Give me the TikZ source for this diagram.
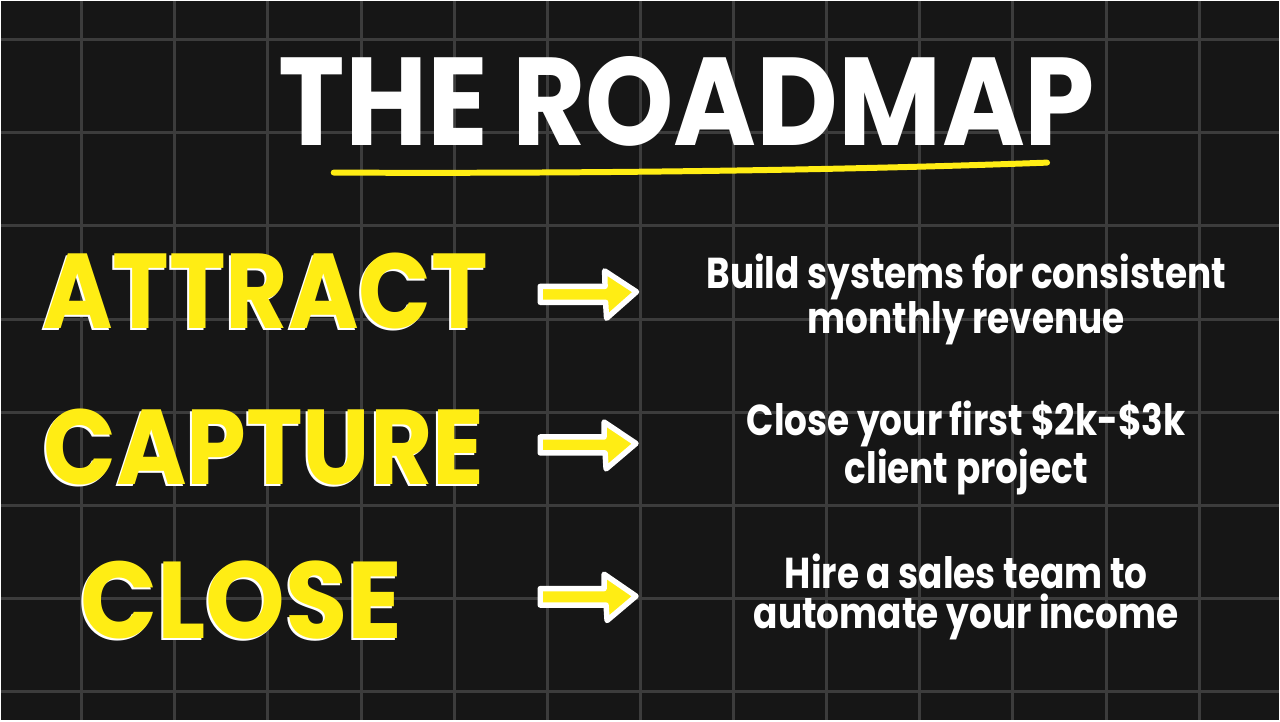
\documentclass[tikz,border=0pt]{standalone}
\usepackage{fontspec}
\usepackage{tikz}
\usepackage{xcolor}
\newfontfamily\titlefont{Poppins}[FakeStretch=0.9]
\newfontfamily\wordfont{Poppins}[FakeStretch=0.9]
\newfontfamily\closefont{Poppins}[FakeStretch=0.93]
\newfontfamily\descfont{Poppins}[FakeStretch=0.83]
\definecolor{bgdark}{RGB}{22,22,22}
\definecolor{gridgray}{RGB}{60,60,60}
\definecolor{markyellow}{RGB}{255,237,20}

\begin{document}
\begin{tikzpicture}[x=0.75pt,y=0.75pt,yscale=-1,xscale=1]
%set diagram left start at 0, and has height of 720

%Shape: Rectangle [id:dp1043527781]
\fill [bgdark] (0,0) -- (1280,0) -- (1280,720) -- (0,720) -- cycle ;
%Shape: Grid [id:dp5521930847]
\draw [color=gridgray][line width=2.25] (80.4,0) -- (80.4,720) (173.7,0) -- (173.7,720) (267.1,0) -- (267.1,720) (360.4,0) -- (360.4,720) (453.7,0) -- (453.7,720) (547.1,0) -- (547.1,720) (640.4,0) -- (640.4,720) (733.7,0) -- (733.7,720) (827.1,0) -- (827.1,720) (920.4,0) -- (920.4,720) (1013.7,0) -- (1013.7,720) (1107.1,0) -- (1107.1,720) (1200.4,0) -- (1200.4,720) (0,38.3) -- (1280,38.3) (0,131.6) -- (1280,131.6) (0,225) -- (1280,225) (0,318.3) -- (1280,318.3) (0,411.6) -- (1280,411.6) (0,505) -- (1280,505) (0,598.3) -- (1280,598.3) (0,691.6) -- (1280,691.6) ;

%Curve Lines [id:da7318204562]
\draw [color=markyellow][line width=4.5][line cap=round] (333,171.5) .. controls (560,172.5) and (820,170) .. (1048,161.5) ;

%Shape: Right Arrow [id:dp2290418735]
\draw [color=white][fill=markyellow][line width=4.1][line join=round] (540,285.5) -- (605,285.5) -- (604.5,270) -- (636.5,291) -- (606.5,317.5) -- (605.5,301.5) -- (540,301.5) -- cycle ;
%Shape: Right Arrow [id:dp6614072953]
\draw [color=white][fill=markyellow][line width=4.1][line join=round] (540,436.5) -- (604,436.5) -- (604,421.5) -- (636,443) -- (606,468.5) -- (605,452.5) -- (540,452.5) -- cycle ;
%Shape: Right Arrow [id:dp9107725386]
\draw [color=white][fill=markyellow][line width=4.1][line join=round] (540,588.5) -- (604,588.5) -- (604,574) -- (636,596) -- (607,620.5) -- (606,605) -- (540,605) -- cycle ;

% Text Node
\draw (687,144) node [anchor=base][inner sep=0.75pt] [font=\titlefont\bfseries\fontsize{94}{94}\selectfont, color=white] (title) {THE ROADMAP};
% Text Node
\draw (262.5,330) node [anchor=base][inner sep=0.75pt] [font=\wordfont\bfseries\fontsize{80}{80}\selectfont, color=white] (attractShadow) {ATTRACT};
% Text Node
\draw (264.5,328) node [anchor=base][inner sep=0.75pt] [font=\wordfont\bfseries\fontsize{80}{80}\selectfont, color=markyellow] (attract) {ATTRACT};
% Text Node
\draw (261,486) node [anchor=base][inner sep=0.75pt] [font=\wordfont\bfseries\fontsize{80}{80}\selectfont, color=white] (captureShadow) {CAPTURE};
% Text Node
\draw (263,484) node [anchor=base][inner sep=0.75pt] [font=\wordfont\bfseries\fontsize{80}{80}\selectfont, color=markyellow] (capture) {CAPTURE};
% Text Node
\draw (238.5,640) node [anchor=base][inner sep=0.75pt] [font=\closefont\bfseries\fontsize{82}{82}\selectfont, color=white] (closeShadow) {CLOSE};
% Text Node
\draw (240.5,638) node [anchor=base][inner sep=0.75pt] [font=\closefont\bfseries\fontsize{82}{82}\selectfont, color=markyellow] (close) {CLOSE};
% Text Node
\draw (967,332.7) node [anchor=base][inner sep=0.75pt] [font=\descfont\bfseries\fontsize{32.5}{30}\selectfont, color=white] [align=center] (attractText) {Build systems for consistent\\monthly revenue};
% Text Node
\draw (967,482.7) node [anchor=base][inner sep=0.75pt] [font=\descfont\bfseries\fontsize{32.5}{30}\selectfont, color=white] [align=center] (captureText) {Close your first \$2k-\$3k\\client project};
% Text Node
\draw (967,628) node [anchor=base][inner sep=0.75pt] [font=\descfont\bfseries\fontsize{32.5}{30}\selectfont, color=white] [align=center] (closeText) {Hire a sales team to\\automate your income};

\end{tikzpicture}
\end{document}
